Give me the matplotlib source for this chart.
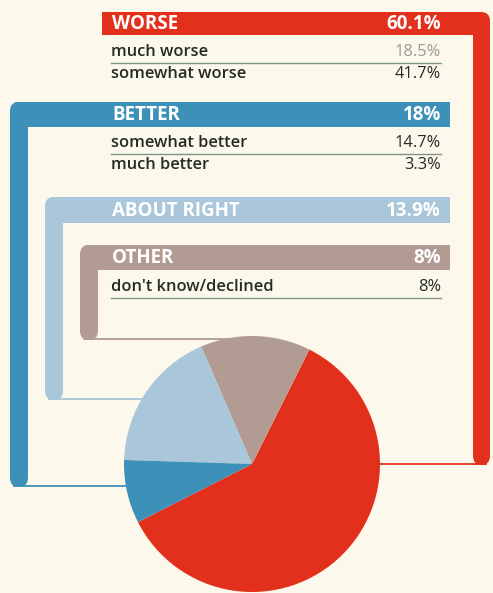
import matplotlib.pyplot as plt
from matplotlib.patches import FancyBboxPatch, Rectangle

# survey breakdown
categories = ["WORSE", "BETTER", "ABOUT RIGHT", "OTHER"]
totals = [60.1, 18, 13.9, 8]
sub_labels = [["much worse", "somewhat worse"],
              ["somewhat better", "much better"],
              [],
              ["don't know/declined"]]
sub_values = [[18.5, 41.7], [14.7, 3.3], [], [8]]

# pie slices, counter-clockwise from the big red wedge
pie_order = [0, 2, 1, 3]
pie_colors = ["#e2301c", "#b19b92", "#a9c6da", "#3d90b8"]

frame_colors = ["#e2301c", "#3d90b8", "#a9c6da", "#b19b92"]
bg = "#fcf8ec"
ink = "#232b25"

W, H = 493, 593
fig = plt.figure(figsize=(W / 100, H / 100), dpi=100, facecolor=bg)
ax = fig.add_axes([0, 0, 1, 1])
ax.set_xlim(0, W)
ax.set_ylim(H, 0)
ax.axis("off")
ax.set_facecolor(bg)

plt.rcParams['font.family'] = ['Open Sans', 'DejaVu Sans']

# frame geometry in pixels: (bar_x0, bar_x1, head_x0, head_x1, top, head_bottom, bottom, bar_on_right)
frames = [
    (473, 490, 102, 480, 12, 35, 465, True),
    (10, 28, 15, 450, 102, 127, 487, False),
    (45, 63, 50, 450, 197, 223, 400, False),
    (80, 98, 85, 450, 245, 270, 340, False),
]
row_y0 = [52, 143, None, 287]
text_x0, text_x1 = 111, 441

for i, (bx0, bx1, hx0, hx1, top, hb, bot, right) in enumerate(frames):
    c = frame_colors[i]
    # thin bottom rule running in under the pie
    if right:
        ax.plot([250, bx1 - 4], [bot - 0.8, bot - 0.8], color=c, lw=1.3, zorder=1)
    else:
        ax.plot([bx0 + 4, 250], [bot - 0.8, bot - 0.8], color=c, lw=1.3, zorder=1)
    # thick side bar with rounded ends
    ax.add_patch(FancyBboxPatch((bx0, top), bx1 - bx0, bot - top,
                                boxstyle="round,pad=0,rounding_size=9",
                                fc=c, ec="none", zorder=2))
    # header band
    ax.add_patch(Rectangle((hx0, top), hx1 - hx0, hb - top, fc=c, ec="none", zorder=2))
    ym = (top + hb) / 2
    ax.text(text_x0 + 1, ym + 0.5, categories[i], color="white", fontsize=13.5,
            fontweight="bold", ha="left", va="center", zorder=3)
    ax.text(text_x1, ym + 0.5, f"{totals[i]:g}%", color="white", fontsize=13.5,
            fontweight="bold", ha="right", va="center", zorder=3)

    # sub rows
    for j, (lab, val) in enumerate(zip(sub_labels[i], sub_values[i])):
        y = row_y0[i] + j * 22
        ax.text(text_x0, y, lab, color=ink, fontsize=11.8, fontweight="semibold",
                ha="left", va="center", zorder=3)
        num_col = "#9a9a94" if (i == 0 and j == 0) else ink
        ax.text(text_x1, y, f"{val:g}%", color=num_col, fontsize=11.8,
                ha="right", va="center", zorder=3)
        if j == 0:
            ax.plot([text_x0, text_x1], [y + 11, y + 11], color="#7d9585", lw=1.0, zorder=3)

# pie on top of the frames
cx, cy, r = 252, 464, 128
pax = fig.add_axes([(cx - r) / W, (H - cy - r) / H, 2 * r / W, 2 * r / H])
pax.pie([totals[k] for k in pie_order], colors=pie_colors, startangle=207,
        counterclock=True, radius=1, wedgeprops=dict(linewidth=0))
pax.set_xlim(-1, 1)
pax.set_ylim(-1, 1)
pax.set_aspect("equal")
pax.axis("off")

fig.savefig("out.png", dpi=100, facecolor=bg)
